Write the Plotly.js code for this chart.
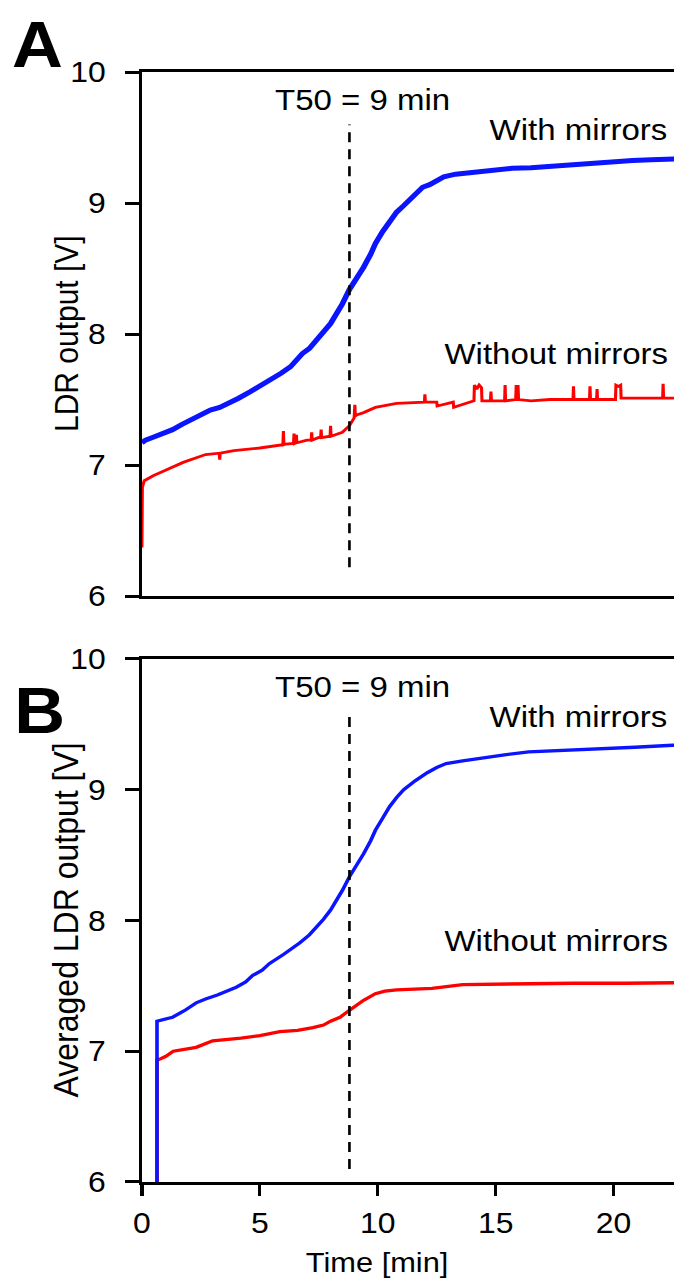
<!DOCTYPE html>
<html>
<head>
<meta charset="utf-8">
<script src="https://cdn.plot.ly/plotly-3.0.1.min.js"></script>
<style>
  html, body { margin: 0; padding: 0; background: #fff; overflow: hidden; width: 674px; height: 1279px; }
  #chart { width: 820px; height: 1279px; transform: scaleX(1.1); transform-origin: 0 0; }
</style>
</head>
<body>
<div id="chart"></div>
<script>
// ---------- Panel A: raw LDR output ----------
const withMirrorsA_x = [0, 0.15, 0.45, 0.9, 1.3, 1.7, 2.0, 2.4, 2.9, 3.3, 3.7, 4.1, 4.6, 5.0, 5.4, 5.9, 6.3, 6.8, 7.1, 7.4, 7.7, 8.0, 8.3, 8.5, 8.8, 9.1, 9.4, 9.7, 9.9, 10.2, 10.5, 10.8, 11.1, 11.4, 11.6, 11.9, 12.2, 12.5, 12.8, 13.3, 13.8, 14.3, 15.0, 15.7, 16.5, 17.2, 17.9, 18.6, 19.3, 20.0, 20.8, 21.6, 22.5, 23.2];
const withMirrorsA_y = [7.17, 7.19, 7.21, 7.24, 7.27, 7.31, 7.34, 7.37, 7.42, 7.44, 7.47, 7.51, 7.56, 7.60, 7.65, 7.70, 7.75, 7.85, 7.89, 7.95, 8.01, 8.08, 8.17, 8.23, 8.34, 8.42, 8.51, 8.61, 8.69, 8.78, 8.86, 8.93, 8.98, 9.03, 9.07, 9.12, 9.14, 9.17, 9.20, 9.22, 9.23, 9.24, 9.25, 9.265, 9.27, 9.28, 9.29, 9.30, 9.31, 9.32, 9.325, 9.33, 9.34, 9.34];

const withoutMirrorsA_x = [0, 0.02, 0.1, 0.5, 1.0, 1.75, 2.7, 3.28, 3.3, 3.32, 3.9, 5.0, 5.98, 6.0, 6.02, 6.1, 6.43, 6.45, 6.47, 6.53, 6.55, 6.57, 7.0, 7.18, 7.2, 7.22, 7.5, 7.58, 7.6, 7.62, 7.98, 8.0, 8.02, 8.5, 8.8, 9.0, 9.03, 9.05, 9.07, 9.4, 9.9, 10.8, 11.98, 12.0, 12.02, 12.5, 12.52, 13.2, 13.22, 14.08, 14.1, 14.2, 14.3, 14.4, 14.42, 14.78, 14.8, 14.82, 15.38, 15.4, 15.42, 15.85, 15.87, 15.95, 15.97, 16.5, 17.3, 18.28, 18.3, 18.32, 18.98, 19.0, 19.02, 19.28, 19.3, 19.32, 20.08, 20.1, 20.2, 20.3, 20.32, 21.0, 22.08, 22.1, 22.12, 23.2];
const withoutMirrorsA_y = [6.37, 6.83, 6.88, 6.92, 6.96, 7.02, 7.08, 7.09, 7.04, 7.09, 7.11, 7.13, 7.155, 7.26, 7.155, 7.16, 7.165, 7.24, 7.165, 7.17, 7.23, 7.17, 7.19, 7.19, 7.25, 7.19, 7.21, 7.21, 7.27, 7.21, 7.22, 7.30, 7.22, 7.25, 7.30, 7.36, 7.46, 7.37, 7.38, 7.40, 7.44, 7.47, 7.48, 7.54, 7.48, 7.48, 7.45, 7.48, 7.44, 7.49, 7.61, 7.58, 7.61, 7.59, 7.49, 7.49, 7.56, 7.49, 7.49, 7.61, 7.49, 7.50, 7.60, 7.60, 7.50, 7.49, 7.50, 7.50, 7.60, 7.50, 7.50, 7.60, 7.50, 7.50, 7.58, 7.50, 7.50, 7.61, 7.60, 7.61, 7.51, 7.51, 7.51, 7.62, 7.51, 7.51];

// ---------- Panel B: averaged LDR output ----------
const withMirrorsB_x = [0.64, 0.64, 1.3, 1.8, 2.3, 2.7, 3.2, 3.6, 4.0, 4.4, 4.7, 5.1, 5.4, 6.0, 6.7, 7.1, 7.4, 7.7, 8.0, 8.3, 8.5, 8.8, 9.1, 9.4, 9.7, 9.9, 10.2, 10.5, 10.8, 11.1, 11.6, 12.1, 12.5, 12.9, 13.6, 14.3, 15.3, 16.4, 17.8, 19.3, 20.9, 22.5, 23.2];
const withMirrorsB_y = [6.0, 7.23, 7.26, 7.31, 7.37, 7.40, 7.43, 7.46, 7.49, 7.53, 7.58, 7.62, 7.67, 7.74, 7.83, 7.89, 7.95, 8.01, 8.08, 8.17, 8.23, 8.335, 8.42, 8.51, 8.61, 8.69, 8.78, 8.87, 8.94, 9.00, 9.07, 9.13, 9.17, 9.20, 9.22, 9.24, 9.265, 9.29, 9.30, 9.31, 9.325, 9.34, 9.34];

const withoutMirrorsB_x = [0.64, 0.64, 1.0, 1.33, 2.3, 3.0, 4.2, 5.0, 5.85, 6.6, 7.25, 7.7, 8.0, 8.4, 8.7, 9.0, 9.4, 9.9, 10.3, 10.8, 11.5, 12.3, 13.6, 15.5, 18.3, 20.5, 22.5, 23.2];
const withoutMirrorsB_y = [6.0, 6.93, 6.96, 7.00, 7.03, 7.08, 7.10, 7.12, 7.15, 7.16, 7.18, 7.20, 7.23, 7.26, 7.30, 7.34, 7.39, 7.44, 7.46, 7.47, 7.475, 7.48, 7.51, 7.515, 7.52, 7.52, 7.525, 7.525];

// ---------- Annotations / axes ----------
const t50 = 8.8;
const yTicks = [6, 7, 8, 9, 10];
const xTicks = [0, 5, 10, 15, 20];
const labelT50 = 'T50 = 9 min';
const labelWith = 'With mirrors';
const labelWithout = 'Without mirrors';

const FONT = 'Liberation Sans, Arial, sans-serif';
const BLUE = '#0a14ff';
const RED = '#ff0000';

const traces = [
  {x: withoutMirrorsA_x, y: withoutMirrorsA_y, xaxis: 'x2', yaxis: 'y2', mode: 'lines',
   line: {color: RED, width: 2.8}, name: labelWithout},
  {x: withMirrorsA_x, y: withMirrorsA_y, xaxis: 'x2', yaxis: 'y2', mode: 'lines',
   line: {color: BLUE, width: 5}, name: labelWith},
  {x: withoutMirrorsB_x, y: withoutMirrorsB_y, xaxis: 'x', yaxis: 'y', mode: 'lines',
   line: {color: RED, width: 3.3}, name: labelWithout},
  {x: withMirrorsB_x, y: withMirrorsB_y, xaxis: 'x', yaxis: 'y', mode: 'lines',
   line: {color: BLUE, width: 3.3}, name: labelWith}
];

const axisCommon = {
  showline: true, linecolor: '#000', linewidth: 3, mirror: true,
  showgrid: false, zeroline: false,
  tickfont: {family: FONT, size: 29, color: '#000'}
};

const layout = {
  width: 820, height: 1279,
  margin: {l: 129, r: 155, t: 72, b: 97},
  paper_bgcolor: '#fff', plot_bgcolor: '#fff',
  showlegend: false,
  font: {family: FONT, color: '#000'},
  xaxis: Object.assign({}, axisCommon, {
    anchor: 'y', range: [0, 25], tickvals: xTicks, ticktext: xTicks.map(String),
    ticks: 'outside', ticklen: 11, tickwidth: 3, tickcolor: '#000', ticklabelstandoff: 2
  }),
  xaxis2: Object.assign({}, axisCommon, {
    anchor: 'y2', range: [0, 25], showticklabels: false, ticks: ''
  }),
  yaxis: Object.assign({}, axisCommon, {
    domain: [0, 0.4712], range: [6, 10], tickvals: yTicks, ticktext: yTicks.map(String),
    ticks: 'outside', ticklen: 12, tickwidth: 3, tickcolor: '#000', ticklabelstandoff: 12
  }),
  yaxis2: Object.assign({}, axisCommon, {
    domain: [0.5279, 1], range: [6, 10], tickvals: yTicks, ticktext: yTicks.map(String),
    ticks: 'outside', ticklen: 12, tickwidth: 3, tickcolor: '#000', ticklabelstandoff: 12
  }),
  shapes: [
    {type: 'line', xref: 'x2', yref: 'y2', x0: t50, x1: t50, y0: 6.22, y1: 9.6,
     line: {color: '#000', width: 2.4, dash: '10px,7px'}},
    {type: 'line', xref: 'x', yref: 'y', x0: t50, x1: t50, y0: 6.1, y1: 9.6,
     line: {color: '#000', width: 2.4, dash: '10px,7px'}}
  ],
  annotations: [
    {xref: 'paper', yref: 'paper', x: 0, y: 1, xshift: -95, yshift: 27, xanchor: 'center', yanchor: 'middle',
     text: '<b>A</b>', showarrow: false, font: {family: FONT, size: 64, color: '#000'}},
    {xref: 'paper', yref: 'y', x: 0, y: 9.6, xshift: -93, xanchor: 'center', yanchor: 'middle',
     text: '<b>B</b>', showarrow: false, font: {family: FONT, size: 64, color: '#000'}},
    {xref: 'x2', yref: 'y2', x: 9.36, y: 9.79, text: labelT50, showarrow: false,
     xanchor: 'center', yanchor: 'middle', font: {family: FONT, size: 30}},
    {xref: 'x2', yref: 'y2', x: 22.37, y: 9.56, text: labelWith, showarrow: false,
     xanchor: 'right', yanchor: 'middle', font: {family: FONT, size: 30}},
    {xref: 'x2', yref: 'y2', x: 22.37, y: 7.85, text: labelWithout, showarrow: false,
     xanchor: 'right', yanchor: 'middle', font: {family: FONT, size: 30}},
    {xref: 'x', yref: 'y', x: 9.36, y: 9.79, text: labelT50, showarrow: false,
     xanchor: 'center', yanchor: 'middle', font: {family: FONT, size: 30}},
    {xref: 'x', yref: 'y', x: 22.37, y: 9.56, text: labelWith, showarrow: false,
     xanchor: 'right', yanchor: 'middle', font: {family: FONT, size: 30}},
    {xref: 'x', yref: 'y', x: 22.37, y: 7.85, text: labelWithout, showarrow: false,
     xanchor: 'right', yanchor: 'middle', font: {family: FONT, size: 30}},
    {xref: 'paper', yref: 'y2', x: 0, y: 8, xshift: -69, textangle: -90, text: 'LDR output [V]',
     showarrow: false, xanchor: 'center', yanchor: 'middle', font: {family: FONT, size: 30}},
    {xref: 'paper', yref: 'y', x: 0, y: 8, xshift: -69, textangle: -90, text: 'Averaged LDR output [V]',
     showarrow: false, xanchor: 'center', yanchor: 'middle', font: {family: FONT, size: 32}},
    {xref: 'x', yref: 'paper', x: 10, y: 0, yshift: -80, text: 'Time [min]', showarrow: false,
     xanchor: 'center', yanchor: 'middle', font: {family: FONT, size: 28}}
  ]
};

Plotly.newPlot('chart', traces, layout, {staticPlot: true, displayModeBar: false});
</script>
</body>
</html>
